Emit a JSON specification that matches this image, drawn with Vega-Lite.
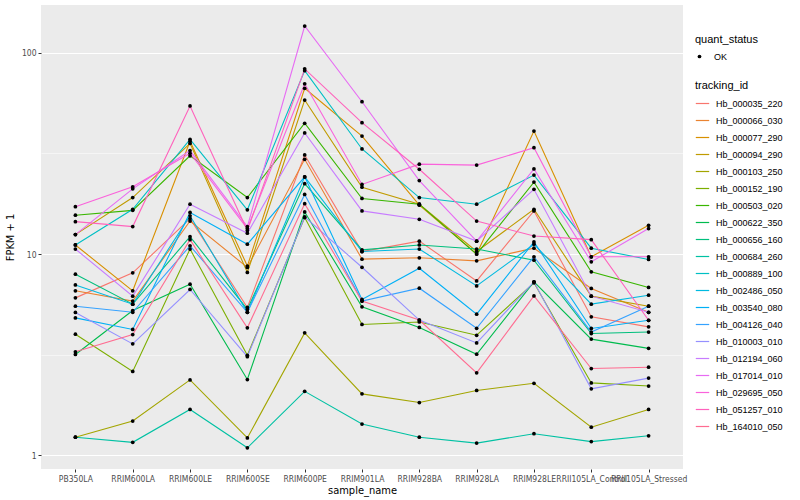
{
  "$schema": "https://vega.github.io/schema/vega-lite/v6.json",
  "width": 642,
  "height": 464,
  "autosize": {"type": "none"},
  "padding": {"left": 41, "top": 5, "right": 117, "bottom": 31},
  "background": "white",
  "config": {
    "view": {"fill": "#EBEBEB", "stroke": null},
    "font": "Liberation Sans",
    "axis": {
      "domain": false,
      "gridColor": "white",
      "tickColor": "#333333",
      "tickSize": 3,
      "labelColor": "#4D4D4D",
      "labelFont": "Liberation Sans Narrow, DejaVu Sans Condensed, Liberation Sans",
      "labelFontSize": 8.5,
      "titleFont": "Liberation Sans Narrow, DejaVu Sans Condensed, Liberation Sans",
      "titleFontSize": 11,
      "titleFontWeight": "normal",
      "titleColor": "black"
    },
    "legend": {
      "titleFontSize": 11,
      "titleFontWeight": "normal",
      "titleColor": "black",
      "labelFontSize": 9,
      "labelColor": "black"
    }
  },
  "data": {
    "values": [
      {"tracking_id":"Hb_000035_220","sample_name":"PB350LA","fpkm":6.06,"quant_status":"OK"},
      {"tracking_id":"Hb_000035_220","sample_name":"RRIM600LA","fpkm":8.07,"quant_status":"OK"},
      {"tracking_id":"Hb_000035_220","sample_name":"RRIM600LE","fpkm":15.0,"quant_status":"OK"},
      {"tracking_id":"Hb_000035_220","sample_name":"RRIM600SE","fpkm":5.43,"quant_status":"OK"},
      {"tracking_id":"Hb_000035_220","sample_name":"RRIM600PE","fpkm":31.1,"quant_status":"OK"},
      {"tracking_id":"Hb_000035_220","sample_name":"RRIM901LA","fpkm":10.3,"quant_status":"OK"},
      {"tracking_id":"Hb_000035_220","sample_name":"RRIM928BA","fpkm":11.6,"quant_status":"OK"},
      {"tracking_id":"Hb_000035_220","sample_name":"RRIM928LA","fpkm":7.36,"quant_status":"OK"},
      {"tracking_id":"Hb_000035_220","sample_name":"RRIM928LE","fpkm":16.4,"quant_status":"OK"},
      {"tracking_id":"Hb_000035_220","sample_name":"RRII105LA_Control","fpkm":4.88,"quant_status":"OK"},
      {"tracking_id":"Hb_000035_220","sample_name":"RRII105LA_Stressed","fpkm":4.35,"quant_status":"OK"},
      {"tracking_id":"Hb_000066_030","sample_name":"PB350LA","fpkm":6.57,"quant_status":"OK"},
      {"tracking_id":"Hb_000066_030","sample_name":"RRIM600LA","fpkm":5.84,"quant_status":"OK"},
      {"tracking_id":"Hb_000066_030","sample_name":"RRIM600LE","fpkm":14.6,"quant_status":"OK"},
      {"tracking_id":"Hb_000066_030","sample_name":"RRIM600SE","fpkm":8.59,"quant_status":"OK"},
      {"tracking_id":"Hb_000066_030","sample_name":"RRIM600PE","fpkm":29.6,"quant_status":"OK"},
      {"tracking_id":"Hb_000066_030","sample_name":"RRIM901LA","fpkm":9.44,"quant_status":"OK"},
      {"tracking_id":"Hb_000066_030","sample_name":"RRIM928BA","fpkm":9.59,"quant_status":"OK"},
      {"tracking_id":"Hb_000066_030","sample_name":"RRIM928LA","fpkm":9.26,"quant_status":"OK"},
      {"tracking_id":"Hb_000066_030","sample_name":"RRIM928LE","fpkm":10.7,"quant_status":"OK"},
      {"tracking_id":"Hb_000066_030","sample_name":"RRII105LA_Control","fpkm":6.75,"quant_status":"OK"},
      {"tracking_id":"Hb_000066_030","sample_name":"RRII105LA_Stressed","fpkm":5.14,"quant_status":"OK"},
      {"tracking_id":"Hb_000077_290","sample_name":"PB350LA","fpkm":11.1,"quant_status":"OK"},
      {"tracking_id":"Hb_000077_290","sample_name":"RRIM600LA","fpkm":6.57,"quant_status":"OK"},
      {"tracking_id":"Hb_000077_290","sample_name":"RRIM600LE","fpkm":36.4,"quant_status":"OK"},
      {"tracking_id":"Hb_000077_290","sample_name":"RRIM600SE","fpkm":8.72,"quant_status":"OK"},
      {"tracking_id":"Hb_000077_290","sample_name":"RRIM600PE","fpkm":66.7,"quant_status":"OK"},
      {"tracking_id":"Hb_000077_290","sample_name":"RRIM901LA","fpkm":38.6,"quant_status":"OK"},
      {"tracking_id":"Hb_000077_290","sample_name":"RRIM928BA","fpkm":17.5,"quant_status":"OK"},
      {"tracking_id":"Hb_000077_290","sample_name":"RRIM928LA","fpkm":10.0,"quant_status":"OK"},
      {"tracking_id":"Hb_000077_290","sample_name":"RRIM928LE","fpkm":40.9,"quant_status":"OK"},
      {"tracking_id":"Hb_000077_290","sample_name":"RRII105LA_Control","fpkm":9.7,"quant_status":"OK"},
      {"tracking_id":"Hb_000077_290","sample_name":"RRII105LA_Stressed","fpkm":13.9,"quant_status":"OK"},
      {"tracking_id":"Hb_000094_290","sample_name":"PB350LA","fpkm":12.5,"quant_status":"OK"},
      {"tracking_id":"Hb_000094_290","sample_name":"RRIM600LA","fpkm":19.1,"quant_status":"OK"},
      {"tracking_id":"Hb_000094_290","sample_name":"RRIM600LE","fpkm":35.5,"quant_status":"OK"},
      {"tracking_id":"Hb_000094_290","sample_name":"RRIM600SE","fpkm":8.11,"quant_status":"OK"},
      {"tracking_id":"Hb_000094_290","sample_name":"RRIM600PE","fpkm":58.3,"quant_status":"OK"},
      {"tracking_id":"Hb_000094_290","sample_name":"RRIM901LA","fpkm":21.5,"quant_status":"OK"},
      {"tracking_id":"Hb_000094_290","sample_name":"RRIM928BA","fpkm":17.7,"quant_status":"OK"},
      {"tracking_id":"Hb_000094_290","sample_name":"RRIM928LA","fpkm":10.3,"quant_status":"OK"},
      {"tracking_id":"Hb_000094_290","sample_name":"RRIM928LE","fpkm":16.7,"quant_status":"OK"},
      {"tracking_id":"Hb_000094_290","sample_name":"RRII105LA_Control","fpkm":6.18,"quant_status":"OK"},
      {"tracking_id":"Hb_000094_290","sample_name":"RRII105LA_Stressed","fpkm":5.51,"quant_status":"OK"},
      {"tracking_id":"Hb_000103_250","sample_name":"PB350LA","fpkm":1.23,"quant_status":"OK"},
      {"tracking_id":"Hb_000103_250","sample_name":"RRIM600LA","fpkm":1.48,"quant_status":"OK"},
      {"tracking_id":"Hb_000103_250","sample_name":"RRIM600LE","fpkm":2.37,"quant_status":"OK"},
      {"tracking_id":"Hb_000103_250","sample_name":"RRIM600SE","fpkm":1.22,"quant_status":"OK"},
      {"tracking_id":"Hb_000103_250","sample_name":"RRIM600PE","fpkm":4.06,"quant_status":"OK"},
      {"tracking_id":"Hb_000103_250","sample_name":"RRIM901LA","fpkm":2.02,"quant_status":"OK"},
      {"tracking_id":"Hb_000103_250","sample_name":"RRIM928BA","fpkm":1.83,"quant_status":"OK"},
      {"tracking_id":"Hb_000103_250","sample_name":"RRIM928LA","fpkm":2.10,"quant_status":"OK"},
      {"tracking_id":"Hb_000103_250","sample_name":"RRIM928LE","fpkm":2.28,"quant_status":"OK"},
      {"tracking_id":"Hb_000103_250","sample_name":"RRII105LA_Control","fpkm":1.38,"quant_status":"OK"},
      {"tracking_id":"Hb_000103_250","sample_name":"RRII105LA_Stressed","fpkm":1.69,"quant_status":"OK"},
      {"tracking_id":"Hb_000152_190","sample_name":"PB350LA","fpkm":4.0,"quant_status":"OK"},
      {"tracking_id":"Hb_000152_190","sample_name":"RRIM600LA","fpkm":2.61,"quant_status":"OK"},
      {"tracking_id":"Hb_000152_190","sample_name":"RRIM600LE","fpkm":10.6,"quant_status":"OK"},
      {"tracking_id":"Hb_000152_190","sample_name":"RRIM600SE","fpkm":3.14,"quant_status":"OK"},
      {"tracking_id":"Hb_000152_190","sample_name":"RRIM600PE","fpkm":15.2,"quant_status":"OK"},
      {"tracking_id":"Hb_000152_190","sample_name":"RRIM901LA","fpkm":4.47,"quant_status":"OK"},
      {"tracking_id":"Hb_000152_190","sample_name":"RRIM928BA","fpkm":4.60,"quant_status":"OK"},
      {"tracking_id":"Hb_000152_190","sample_name":"RRIM928LA","fpkm":3.95,"quant_status":"OK"},
      {"tracking_id":"Hb_000152_190","sample_name":"RRIM928LE","fpkm":7.2,"quant_status":"OK"},
      {"tracking_id":"Hb_000152_190","sample_name":"RRII105LA_Control","fpkm":2.29,"quant_status":"OK"},
      {"tracking_id":"Hb_000152_190","sample_name":"RRII105LA_Stressed","fpkm":2.21,"quant_status":"OK"},
      {"tracking_id":"Hb_000503_020","sample_name":"PB350LA","fpkm":15.6,"quant_status":"OK"},
      {"tracking_id":"Hb_000503_020","sample_name":"RRIM600LA","fpkm":16.5,"quant_status":"OK"},
      {"tracking_id":"Hb_000503_020","sample_name":"RRIM600LE","fpkm":30.8,"quant_status":"OK"},
      {"tracking_id":"Hb_000503_020","sample_name":"RRIM600SE","fpkm":19.1,"quant_status":"OK"},
      {"tracking_id":"Hb_000503_020","sample_name":"RRIM600PE","fpkm":44.7,"quant_status":"OK"},
      {"tracking_id":"Hb_000503_020","sample_name":"RRIM901LA","fpkm":18.9,"quant_status":"OK"},
      {"tracking_id":"Hb_000503_020","sample_name":"RRIM928BA","fpkm":17.7,"quant_status":"OK"},
      {"tracking_id":"Hb_000503_020","sample_name":"RRIM928LA","fpkm":10.0,"quant_status":"OK"},
      {"tracking_id":"Hb_000503_020","sample_name":"RRIM928LE","fpkm":22.8,"quant_status":"OK"},
      {"tracking_id":"Hb_000503_020","sample_name":"RRII105LA_Control","fpkm":8.17,"quant_status":"OK"},
      {"tracking_id":"Hb_000503_020","sample_name":"RRII105LA_Stressed","fpkm":6.83,"quant_status":"OK"},
      {"tracking_id":"Hb_000622_350","sample_name":"PB350LA","fpkm":3.17,"quant_status":"OK"},
      {"tracking_id":"Hb_000622_350","sample_name":"RRIM600LA","fpkm":5.24,"quant_status":"OK"},
      {"tracking_id":"Hb_000622_350","sample_name":"RRIM600LE","fpkm":7.09,"quant_status":"OK"},
      {"tracking_id":"Hb_000622_350","sample_name":"RRIM600SE","fpkm":2.38,"quant_status":"OK"},
      {"tracking_id":"Hb_000622_350","sample_name":"RRIM600PE","fpkm":16.2,"quant_status":"OK"},
      {"tracking_id":"Hb_000622_350","sample_name":"RRIM901LA","fpkm":5.47,"quant_status":"OK"},
      {"tracking_id":"Hb_000622_350","sample_name":"RRIM928BA","fpkm":4.32,"quant_status":"OK"},
      {"tracking_id":"Hb_000622_350","sample_name":"RRIM928LA","fpkm":3.18,"quant_status":"OK"},
      {"tracking_id":"Hb_000622_350","sample_name":"RRIM928LE","fpkm":7.28,"quant_status":"OK"},
      {"tracking_id":"Hb_000622_350","sample_name":"RRII105LA_Control","fpkm":3.78,"quant_status":"OK"},
      {"tracking_id":"Hb_000622_350","sample_name":"RRII105LA_Stressed","fpkm":3.40,"quant_status":"OK"},
      {"tracking_id":"Hb_000656_160","sample_name":"PB350LA","fpkm":7.95,"quant_status":"OK"},
      {"tracking_id":"Hb_000656_160","sample_name":"RRIM600LA","fpkm":5.64,"quant_status":"OK"},
      {"tracking_id":"Hb_000656_160","sample_name":"RRIM600LE","fpkm":12.2,"quant_status":"OK"},
      {"tracking_id":"Hb_000656_160","sample_name":"RRIM600SE","fpkm":5.31,"quant_status":"OK"},
      {"tracking_id":"Hb_000656_160","sample_name":"RRIM600PE","fpkm":22.4,"quant_status":"OK"},
      {"tracking_id":"Hb_000656_160","sample_name":"RRIM901LA","fpkm":10.5,"quant_status":"OK"},
      {"tracking_id":"Hb_000656_160","sample_name":"RRIM928BA","fpkm":11.1,"quant_status":"OK"},
      {"tracking_id":"Hb_000656_160","sample_name":"RRIM928LA","fpkm":10.6,"quant_status":"OK"},
      {"tracking_id":"Hb_000656_160","sample_name":"RRIM928LE","fpkm":9.33,"quant_status":"OK"},
      {"tracking_id":"Hb_000656_160","sample_name":"RRII105LA_Control","fpkm":4.03,"quant_status":"OK"},
      {"tracking_id":"Hb_000656_160","sample_name":"RRII105LA_Stressed","fpkm":4.10,"quant_status":"OK"},
      {"tracking_id":"Hb_000684_260","sample_name":"PB350LA","fpkm":1.23,"quant_status":"OK"},
      {"tracking_id":"Hb_000684_260","sample_name":"RRIM600LA","fpkm":1.16,"quant_status":"OK"},
      {"tracking_id":"Hb_000684_260","sample_name":"RRIM600LE","fpkm":1.69,"quant_status":"OK"},
      {"tracking_id":"Hb_000684_260","sample_name":"RRIM600SE","fpkm":1.09,"quant_status":"OK"},
      {"tracking_id":"Hb_000684_260","sample_name":"RRIM600PE","fpkm":2.08,"quant_status":"OK"},
      {"tracking_id":"Hb_000684_260","sample_name":"RRIM901LA","fpkm":1.43,"quant_status":"OK"},
      {"tracking_id":"Hb_000684_260","sample_name":"RRIM928BA","fpkm":1.23,"quant_status":"OK"},
      {"tracking_id":"Hb_000684_260","sample_name":"RRIM928LA","fpkm":1.15,"quant_status":"OK"},
      {"tracking_id":"Hb_000684_260","sample_name":"RRIM928LE","fpkm":1.28,"quant_status":"OK"},
      {"tracking_id":"Hb_000684_260","sample_name":"RRII105LA_Control","fpkm":1.17,"quant_status":"OK"},
      {"tracking_id":"Hb_000684_260","sample_name":"RRII105LA_Stressed","fpkm":1.25,"quant_status":"OK"},
      {"tracking_id":"Hb_000889_100","sample_name":"PB350LA","fpkm":11.1,"quant_status":"OK"},
      {"tracking_id":"Hb_000889_100","sample_name":"RRIM600LA","fpkm":16.7,"quant_status":"OK"},
      {"tracking_id":"Hb_000889_100","sample_name":"RRIM600LE","fpkm":37.2,"quant_status":"OK"},
      {"tracking_id":"Hb_000889_100","sample_name":"RRIM600SE","fpkm":16.6,"quant_status":"OK"},
      {"tracking_id":"Hb_000889_100","sample_name":"RRIM600PE","fpkm":81.6,"quant_status":"OK"},
      {"tracking_id":"Hb_000889_100","sample_name":"RRIM901LA","fpkm":33.3,"quant_status":"OK"},
      {"tracking_id":"Hb_000889_100","sample_name":"RRIM928BA","fpkm":19.1,"quant_status":"OK"},
      {"tracking_id":"Hb_000889_100","sample_name":"RRIM928LA","fpkm":17.7,"quant_status":"OK"},
      {"tracking_id":"Hb_000889_100","sample_name":"RRIM928LE","fpkm":24.7,"quant_status":"OK"},
      {"tracking_id":"Hb_000889_100","sample_name":"RRII105LA_Control","fpkm":10.7,"quant_status":"OK"},
      {"tracking_id":"Hb_000889_100","sample_name":"RRII105LA_Stressed","fpkm":9.41,"quant_status":"OK"},
      {"tracking_id":"Hb_002486_050","sample_name":"PB350LA","fpkm":7.03,"quant_status":"OK"},
      {"tracking_id":"Hb_002486_050","sample_name":"RRIM600LA","fpkm":5.64,"quant_status":"OK"},
      {"tracking_id":"Hb_002486_050","sample_name":"RRIM600LE","fpkm":15.5,"quant_status":"OK"},
      {"tracking_id":"Hb_002486_050","sample_name":"RRIM600SE","fpkm":5.14,"quant_status":"OK"},
      {"tracking_id":"Hb_002486_050","sample_name":"RRIM600PE","fpkm":24.2,"quant_status":"OK"},
      {"tracking_id":"Hb_002486_050","sample_name":"RRIM901LA","fpkm":10.3,"quant_status":"OK"},
      {"tracking_id":"Hb_002486_050","sample_name":"RRIM928BA","fpkm":10.6,"quant_status":"OK"},
      {"tracking_id":"Hb_002486_050","sample_name":"RRIM928LA","fpkm":6.95,"quant_status":"OK"},
      {"tracking_id":"Hb_002486_050","sample_name":"RRIM928LE","fpkm":11.2,"quant_status":"OK"},
      {"tracking_id":"Hb_002486_050","sample_name":"RRII105LA_Control","fpkm":5.64,"quant_status":"OK"},
      {"tracking_id":"Hb_002486_050","sample_name":"RRII105LA_Stressed","fpkm":6.25,"quant_status":"OK"},
      {"tracking_id":"Hb_003540_080","sample_name":"PB350LA","fpkm":4.82,"quant_status":"OK"},
      {"tracking_id":"Hb_003540_080","sample_name":"RRIM600LA","fpkm":4.22,"quant_status":"OK"},
      {"tracking_id":"Hb_003540_080","sample_name":"RRIM600LE","fpkm":16.1,"quant_status":"OK"},
      {"tracking_id":"Hb_003540_080","sample_name":"RRIM600SE","fpkm":11.2,"quant_status":"OK"},
      {"tracking_id":"Hb_003540_080","sample_name":"RRIM600PE","fpkm":24.2,"quant_status":"OK"},
      {"tracking_id":"Hb_003540_080","sample_name":"RRIM901LA","fpkm":5.95,"quant_status":"OK"},
      {"tracking_id":"Hb_003540_080","sample_name":"RRIM928BA","fpkm":8.51,"quant_status":"OK"},
      {"tracking_id":"Hb_003540_080","sample_name":"RRIM928LA","fpkm":5.03,"quant_status":"OK"},
      {"tracking_id":"Hb_003540_080","sample_name":"RRIM928LE","fpkm":11.5,"quant_status":"OK"},
      {"tracking_id":"Hb_003540_080","sample_name":"RRII105LA_Control","fpkm":4.27,"quant_status":"OK"},
      {"tracking_id":"Hb_003540_080","sample_name":"RRII105LA_Stressed","fpkm":4.69,"quant_status":"OK"},
      {"tracking_id":"Hb_004126_040","sample_name":"PB350LA","fpkm":5.51,"quant_status":"OK"},
      {"tracking_id":"Hb_004126_040","sample_name":"RRIM600LA","fpkm":5.14,"quant_status":"OK"},
      {"tracking_id":"Hb_004126_040","sample_name":"RRIM600LE","fpkm":11.0,"quant_status":"OK"},
      {"tracking_id":"Hb_004126_040","sample_name":"RRIM600SE","fpkm":5.14,"quant_status":"OK"},
      {"tracking_id":"Hb_004126_040","sample_name":"RRIM600PE","fpkm":19.8,"quant_status":"OK"},
      {"tracking_id":"Hb_004126_040","sample_name":"RRIM901LA","fpkm":5.84,"quant_status":"OK"},
      {"tracking_id":"Hb_004126_040","sample_name":"RRIM928BA","fpkm":6.77,"quant_status":"OK"},
      {"tracking_id":"Hb_004126_040","sample_name":"RRIM928LA","fpkm":4.28,"quant_status":"OK"},
      {"tracking_id":"Hb_004126_040","sample_name":"RRIM928LE","fpkm":9.7,"quant_status":"OK"},
      {"tracking_id":"Hb_004126_040","sample_name":"RRII105LA_Control","fpkm":4.10,"quant_status":"OK"},
      {"tracking_id":"Hb_004126_040","sample_name":"RRII105LA_Stressed","fpkm":5.51,"quant_status":"OK"},
      {"tracking_id":"Hb_010003_010","sample_name":"PB350LA","fpkm":5.13,"quant_status":"OK"},
      {"tracking_id":"Hb_010003_010","sample_name":"RRIM600LA","fpkm":3.58,"quant_status":"OK"},
      {"tracking_id":"Hb_010003_010","sample_name":"RRIM600LE","fpkm":6.67,"quant_status":"OK"},
      {"tracking_id":"Hb_010003_010","sample_name":"RRIM600SE","fpkm":3.09,"quant_status":"OK"},
      {"tracking_id":"Hb_010003_010","sample_name":"RRIM600PE","fpkm":15.3,"quant_status":"OK"},
      {"tracking_id":"Hb_010003_010","sample_name":"RRIM901LA","fpkm":8.6,"quant_status":"OK"},
      {"tracking_id":"Hb_010003_010","sample_name":"RRIM928BA","fpkm":4.70,"quant_status":"OK"},
      {"tracking_id":"Hb_010003_010","sample_name":"RRIM928LA","fpkm":3.62,"quant_status":"OK"},
      {"tracking_id":"Hb_010003_010","sample_name":"RRIM928LE","fpkm":7.28,"quant_status":"OK"},
      {"tracking_id":"Hb_010003_010","sample_name":"RRII105LA_Control","fpkm":2.14,"quant_status":"OK"},
      {"tracking_id":"Hb_010003_010","sample_name":"RRII105LA_Stressed","fpkm":2.42,"quant_status":"OK"},
      {"tracking_id":"Hb_012194_060","sample_name":"PB350LA","fpkm":10.6,"quant_status":"OK"},
      {"tracking_id":"Hb_012194_060","sample_name":"RRIM600LA","fpkm":6.18,"quant_status":"OK"},
      {"tracking_id":"Hb_012194_060","sample_name":"RRIM600LE","fpkm":17.7,"quant_status":"OK"},
      {"tracking_id":"Hb_012194_060","sample_name":"RRIM600SE","fpkm":12.7,"quant_status":"OK"},
      {"tracking_id":"Hb_012194_060","sample_name":"RRIM600PE","fpkm":40.0,"quant_status":"OK"},
      {"tracking_id":"Hb_012194_060","sample_name":"RRIM901LA","fpkm":16.4,"quant_status":"OK"},
      {"tracking_id":"Hb_012194_060","sample_name":"RRIM928BA","fpkm":14.9,"quant_status":"OK"},
      {"tracking_id":"Hb_012194_060","sample_name":"RRIM928LA","fpkm":11.6,"quant_status":"OK"},
      {"tracking_id":"Hb_012194_060","sample_name":"RRIM928LE","fpkm":21.0,"quant_status":"OK"},
      {"tracking_id":"Hb_012194_060","sample_name":"RRII105LA_Control","fpkm":6.18,"quant_status":"OK"},
      {"tracking_id":"Hb_012194_060","sample_name":"RRII105LA_Stressed","fpkm":5.14,"quant_status":"OK"},
      {"tracking_id":"Hb_017014_010","sample_name":"PB350LA","fpkm":12.5,"quant_status":"OK"},
      {"tracking_id":"Hb_017014_010","sample_name":"RRIM600LA","fpkm":21.1,"quant_status":"OK"},
      {"tracking_id":"Hb_017014_010","sample_name":"RRIM600LE","fpkm":32.7,"quant_status":"OK"},
      {"tracking_id":"Hb_017014_010","sample_name":"RRIM600SE","fpkm":13.7,"quant_status":"OK"},
      {"tracking_id":"Hb_017014_010","sample_name":"RRIM600PE","fpkm":136,"quant_status":"OK"},
      {"tracking_id":"Hb_017014_010","sample_name":"RRIM901LA","fpkm":57.2,"quant_status":"OK"},
      {"tracking_id":"Hb_017014_010","sample_name":"RRIM928BA","fpkm":23.2,"quant_status":"OK"},
      {"tracking_id":"Hb_017014_010","sample_name":"RRIM928LA","fpkm":11.6,"quant_status":"OK"},
      {"tracking_id":"Hb_017014_010","sample_name":"RRIM928LE","fpkm":26.5,"quant_status":"OK"},
      {"tracking_id":"Hb_017014_010","sample_name":"RRII105LA_Control","fpkm":9.16,"quant_status":"OK"},
      {"tracking_id":"Hb_017014_010","sample_name":"RRII105LA_Stressed","fpkm":13.4,"quant_status":"OK"},
      {"tracking_id":"Hb_029695_050","sample_name":"PB350LA","fpkm":17.2,"quant_status":"OK"},
      {"tracking_id":"Hb_029695_050","sample_name":"RRIM600LA","fpkm":21.6,"quant_status":"OK"},
      {"tracking_id":"Hb_029695_050","sample_name":"RRIM600LE","fpkm":31.7,"quant_status":"OK"},
      {"tracking_id":"Hb_029695_050","sample_name":"RRIM600SE","fpkm":13.4,"quant_status":"OK"},
      {"tracking_id":"Hb_029695_050","sample_name":"RRIM600PE","fpkm":70.2,"quant_status":"OK"},
      {"tracking_id":"Hb_029695_050","sample_name":"RRIM901LA","fpkm":22.2,"quant_status":"OK"},
      {"tracking_id":"Hb_029695_050","sample_name":"RRIM928BA","fpkm":28.0,"quant_status":"OK"},
      {"tracking_id":"Hb_029695_050","sample_name":"RRIM928LA","fpkm":27.7,"quant_status":"OK"},
      {"tracking_id":"Hb_029695_050","sample_name":"RRIM928LE","fpkm":33.8,"quant_status":"OK"},
      {"tracking_id":"Hb_029695_050","sample_name":"RRII105LA_Control","fpkm":9.7,"quant_status":"OK"},
      {"tracking_id":"Hb_029695_050","sample_name":"RRII105LA_Stressed","fpkm":9.7,"quant_status":"OK"},
      {"tracking_id":"Hb_051257_010","sample_name":"PB350LA","fpkm":14.5,"quant_status":"OK"},
      {"tracking_id":"Hb_051257_010","sample_name":"RRIM600LA","fpkm":13.7,"quant_status":"OK"},
      {"tracking_id":"Hb_051257_010","sample_name":"RRIM600LE","fpkm":54.5,"quant_status":"OK"},
      {"tracking_id":"Hb_051257_010","sample_name":"RRIM600SE","fpkm":13.1,"quant_status":"OK"},
      {"tracking_id":"Hb_051257_010","sample_name":"RRIM600PE","fpkm":83.3,"quant_status":"OK"},
      {"tracking_id":"Hb_051257_010","sample_name":"RRIM901LA","fpkm":45.0,"quant_status":"OK"},
      {"tracking_id":"Hb_051257_010","sample_name":"RRIM928BA","fpkm":26.4,"quant_status":"OK"},
      {"tracking_id":"Hb_051257_010","sample_name":"RRIM928LA","fpkm":14.6,"quant_status":"OK"},
      {"tracking_id":"Hb_051257_010","sample_name":"RRIM928LE","fpkm":12.3,"quant_status":"OK"},
      {"tracking_id":"Hb_051257_010","sample_name":"RRII105LA_Control","fpkm":11.8,"quant_status":"OK"},
      {"tracking_id":"Hb_051257_010","sample_name":"RRII105LA_Stressed","fpkm":4.69,"quant_status":"OK"},
      {"tracking_id":"Hb_164010_050","sample_name":"PB350LA","fpkm":3.27,"quant_status":"OK"},
      {"tracking_id":"Hb_164010_050","sample_name":"RRIM600LA","fpkm":3.98,"quant_status":"OK"},
      {"tracking_id":"Hb_164010_050","sample_name":"RRIM600LE","fpkm":11.8,"quant_status":"OK"},
      {"tracking_id":"Hb_164010_050","sample_name":"RRIM600SE","fpkm":4.30,"quant_status":"OK"},
      {"tracking_id":"Hb_164010_050","sample_name":"RRIM600PE","fpkm":17.8,"quant_status":"OK"},
      {"tracking_id":"Hb_164010_050","sample_name":"RRIM901LA","fpkm":5.84,"quant_status":"OK"},
      {"tracking_id":"Hb_164010_050","sample_name":"RRIM928BA","fpkm":4.70,"quant_status":"OK"},
      {"tracking_id":"Hb_164010_050","sample_name":"RRIM928LA","fpkm":2.57,"quant_status":"OK"},
      {"tracking_id":"Hb_164010_050","sample_name":"RRIM928LE","fpkm":6.2,"quant_status":"OK"},
      {"tracking_id":"Hb_164010_050","sample_name":"RRII105LA_Control","fpkm":2.70,"quant_status":"OK"},
      {"tracking_id":"Hb_164010_050","sample_name":"RRII105LA_Stressed","fpkm":2.74,"quant_status":"OK"}
    ]
  },
  "encoding": {
    "x": {
      "field": "sample_name",
      "type": "nominal",
      "sort": ["PB350LA","RRIM600LA","RRIM600LE","RRIM600SE","RRIM600PE","RRIM901LA","RRIM928BA","RRIM928LA","RRIM928LE","RRII105LA_Control","RRII105LA_Stressed"],
      "scale": {"type": "point", "padding": 0.6},
      "axis": {
        "title": "sample_name",
        "labelAngle": 0,
        "labelOverlap": false,
        "labelBound": false,
        "labelFlush": false,
        "labelPadding": 2,
        "gridWidth": 1.1,
        "titlePadding": 2
      }
    },
    "y": {
      "field": "fpkm",
      "type": "quantitative",
      "scale": {"type": "log", "domain": [0.855, 173], "nice": false, "zero": false},
      "axis": {
        "title": "FPKM + 1",
        "values": [1, 3.1623, 10, 31.623, 100],
        "labelExpr": "datum.value == 1 || datum.value == 10 || datum.value == 100 ? datum.label : ''",
        "format": "d",
        "gridWidth": {"condition": {"test": "datum.value == 1 || datum.value == 10 || datum.value == 100", "value": 1.1}, "value": 0.5},
        "tickOpacity": {"condition": {"test": "datum.value == 1 || datum.value == 10 || datum.value == 100", "value": 1}, "value": 0},
        "labelPadding": 2,
        "titlePadding": 6
      }
    }
  },
  "layer": [
    {
      "mark": {"type": "line", "strokeWidth": 1.1},
      "encoding": {
        "color": {
          "field": "tracking_id",
          "type": "nominal",
          "scale": {"range": ["#F8766D","#EA8331","#D89000","#C09B00","#A3A500","#7CAE00","#39B600","#00BB4E","#00BF7D","#00C1A3","#00BFC4","#00BAE0","#00B0F6","#35A2FF","#9590FF","#C77CFF","#E76BF3","#FA62DB","#FF62BC","#FF6C91"]},
          "legend": {
            "title": "tracking_id",
            "orient": "none",
            "legendX": 654,
            "legendY": 75,
            "symbolType": "stroke",
            "symbolSize": 180,
            "symbolStrokeWidth": 1.2,
            "rowPadding": 4,
            "labelOffset": 6,
            "titlePadding": 5
          }
        },
        "detail": {"field": "tracking_id"}
      }
    },
    {
      "mark": {"type": "point", "filled": true, "size": 14, "opacity": 1, "color": "black"},
      "encoding": {
        "shape": {
          "field": "quant_status",
          "type": "nominal",
          "scale": {"range": ["circle"]},
          "legend": {
            "title": "quant_status",
            "orient": "none",
            "legendX": 654,
            "legendY": 29,
            "symbolSize": 14,
            "symbolFillColor": "black",
            "symbolStrokeColor": "black",
            "labelOffset": 10,
            "titlePadding": 7
          }
        }
      }
    }
  ]
}
